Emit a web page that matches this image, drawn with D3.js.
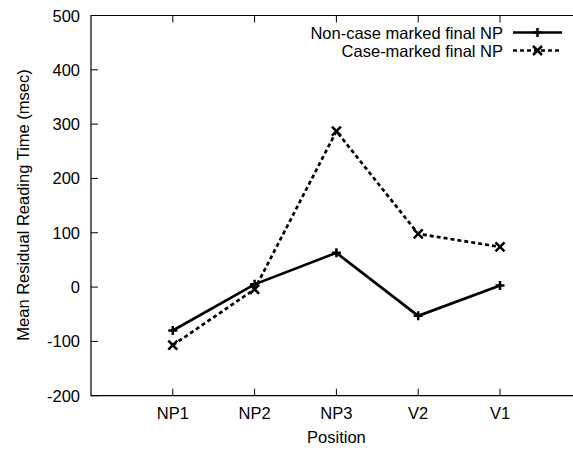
<!DOCTYPE html>
<html><head><meta charset="utf-8">
<script src="https://cdn.jsdelivr.net/npm/d3@7"></script>
<style>html,body{margin:0;padding:0;background:#fff}svg{display:block}text{font-family:"Liberation Sans",Arial,sans-serif;fill:#000}</style>
</head><body>
<script>
const categories = ["NP1","NP2","NP3","V2","V1"];
const seriesNames = ["Non-case marked final NP","Case-marked final NP"];
const nonCase = [-80, 5, 63, -53, 3];
const caseMarked = [-107, -4, 287, 98, 74];
const yTicks = [-200,-100,0,100,200,300,400,500];

(function(){
const W=573,H=450;
const pL=91, pT=15.5, pB=395.7, step=81.8;
const svg=d3.select("body").append("svg").attr("width",W).attr("height",H);
const x=d3.scaleLinear().domain([0,6]).range([pL,pL+6*step]);
const y=d3.scaleLinear().domain([-200,500]).range([pB,pT]);
const xi=i=>x(i+1);

const fs=16.5;
// frame (left, top, bottom; right side lies beyond the picture)
svg.append("path").attr("d",`M${W},${pT}H${pL}V${pB}H${W}`).attr("fill","none").attr("stroke","#000").attr("stroke-width",1.2);
yTicks.forEach(t=>{
  svg.append("line").attr("x1",pL).attr("x2",pL+7).attr("y1",y(t)).attr("y2",y(t)).attr("stroke","#000").attr("stroke-width",1);
  svg.append("text").attr("x",80).attr("y",y(t)+6).attr("text-anchor","end").attr("font-size",fs).text(t);
});
categories.forEach((c,i)=>{
  svg.append("line").attr("x1",xi(i)).attr("x2",xi(i)).attr("y1",pB).attr("y2",pB-7).attr("stroke","#000");
  svg.append("line").attr("x1",xi(i)).attr("x2",xi(i)).attr("y1",pT).attr("y2",pT+7).attr("stroke","#000");
  svg.append("text").attr("x",xi(i)).attr("y",419).attr("text-anchor","middle").attr("font-size",fs).text(c);
});
svg.append("text").attr("x",x(3)).attr("y",443).attr("text-anchor","middle").attr("font-size",fs).text("Position");
svg.append("text").attr("transform",`translate(28.5,205) rotate(-90)`).attr("text-anchor","middle").attr("font-size",fs).text("Mean Residual Reading Time (msec)");

const line=d3.line().x((d,i)=>xi(i)).y(d=>y(d));
function plus(g,cx,cy){g.append("path").attr("d",`M${cx-4.5},${cy}H${cx+4.5}M${cx},${cy-4.5}V${cy+4.5}`).attr("stroke","#000").attr("stroke-width",2.5);}
function cross(g,cx,cy){const s=4.5;g.append("path").attr("d",`M${cx-s},${cy-s}L${cx+s},${cy+s}M${cx-s},${cy+s}L${cx+s},${cy-s}`).attr("stroke","#000").attr("stroke-width",2.5);}

const series=[{v:nonCase,dash:null,mk:plus},{v:caseMarked,dash:"4,3",mk:cross}];
series.forEach(s=>{
  svg.append("path").datum(s.v).attr("d",line).attr("fill","none").attr("stroke","#000").attr("stroke-width",2.7)
    .attr("stroke-dasharray",s.dash);
  s.v.forEach((d,i)=>s.mk(svg,xi(i),y(d)));
});
const ly=[32.5,50.5];
series.forEach((s,k)=>{
  svg.append("text").attr("x",503).attr("y",ly[k]+6).attr("text-anchor","end").attr("font-size",fs).text(seriesNames[k]);
  svg.append("line").attr("x1",513).attr("x2",562).attr("y1",ly[k]).attr("y2",ly[k]).attr("stroke","#000").attr("stroke-width",2.7).attr("stroke-dasharray",s.dash);
  s.mk(svg,537.5,ly[k]);
});
})();
</script>
</body></html>
